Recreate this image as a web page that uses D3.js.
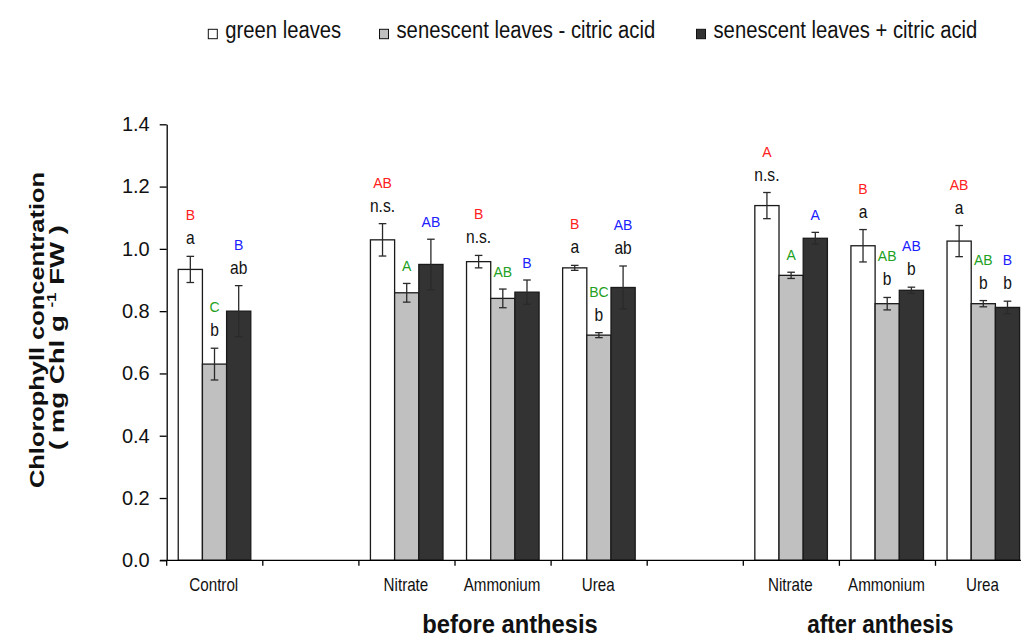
<!DOCTYPE html>
<html lang="en">
<head>
<meta charset="UTF-8">
<script src="https://cdnjs.cloudflare.com/ajax/libs/d3/7.8.5/d3.min.js"></script>
<title>Chlorophyll</title>
<style>
  body { margin: 0; background: #fff; }
  text { font-family: "Liberation Sans", Arial, sans-serif; }
</style>
</head>
<body>
<script>
// x slots (two empty slots separate the groups)
var slots = ["Control", "gap1", "Nitrate-b", "Ammonium-b", "Urea-b", "gap2", "Nitrate-a", "Ammonium-a", "Urea-a"];
var slotLabels = ["Control", "", "Nitrate", "Ammonium", "Urea", "", "Nitrate", "Ammonium", "Urea"];
var groups = ["Control", "Nitrate-b", "Ammonium-b", "Urea-b", "Nitrate-a", "Ammonium-a", "Urea-a"];

var series = ["green leaves", "senescent leaves - citric acid", "senescent leaves + citric acid"];

var green      = [0.934, 1.029, 0.959, 0.939, 1.139, 1.010, 1.025];
var greenErr   = [0.042, 0.052, 0.020, 0.008, 0.042, 0.052, 0.050];
var minus      = [0.630, 0.859, 0.841, 0.723, 0.915, 0.824, 0.824];
var minusErr   = [0.051, 0.030, 0.030, 0.008, 0.010, 0.020, 0.010];
var plus       = [0.800, 0.950, 0.861, 0.876, 1.034, 0.867, 0.812];
var plusErr    = [0.082, 0.081, 0.039, 0.069, 0.019, 0.010, 0.020];

// significance letters: upper (coloured) and lower (black)
var greenUp  = ["B", "AB", "B", "B", "A", "B", "AB"];
var greenLow = ["a", "n.s.", "n.s.", "a", "n.s.", "a", "a"];
var minusUp  = ["C", "A", "AB", "BC", "A", "AB", "AB"];
var minusLow = ["b", "", "", "b", "", "b", "b"];
var plusUp   = ["B", "AB", "B", "AB", "A", "AB", "B"];
var plusLow  = ["ab", "", "", "ab", "", "b", "b"];

var yTicks = [0, 0.2, 0.4, 0.6, 0.8, 1.0, 1.2, 1.4];

var fills = ["#ffffff", "#c0c0c0", "#333333"];
var letterColors = ["#ff2020", "#22a022", "#2020ff"];

var values = [green, minus, plus];
var errs = [greenErr, minusErr, plusErr];
var ups = [greenUp, minusUp, plusUp];
var lows = [greenLow, minusLow, plusLow];

var width = 1021, height = 637;

var svg = d3.select('body').append('svg')
    .attr('width', width)
    .attr('height', height);

var y = d3.scaleLinear().domain([0, 1.4]).range([560.3, 124.3]);
var x = d3.scaleBand().domain(slots).range([166.7, 166.7 + 96.1 * 9]);
var bw = x.bandwidth();
var xi = d3.scaleBand().domain(series).range([bw * 0.12, bw * 0.875]);

// squeeze or stretch text along its reading direction
function fit(sel, k) {
    sel.each(function() {
        var w = this.getComputedTextLength();
        if (w > 0) d3.select(this).attr('textLength', w * k).attr('lengthAdjust', 'spacingAndGlyphs');
    });
}

// flat records for bars
var rows = [];
groups.forEach(function(g, gi) {
    series.forEach(function(s, si) {
        rows.push({g: g, s: s, si: si, v: values[si][gi], e: errs[si][gi], up: ups[si][gi], low: lows[si][gi]});
    });
});

var plot = svg.append('g');

plot.selectAll('rect.bar')
    .data(rows)
    .enter().append('rect')
    .attr('class', 'bar')
    .attr('x', function(d) { return x(d.g) + xi(d.s); })
    .attr('width', xi.bandwidth())
    .attr('y', function(d) { return y(d.v); })
    .attr('height', function(d) { return y(0) - y(d.v); })
    .attr('fill', function(d) { return fills[d.si]; })
    .attr('stroke', '#1a1a1a')
    .attr('stroke-width', 1.3);

// error bars
var eb = plot.selectAll('g.err').data(rows).enter().append('g')
    .attr('class', 'err')
    .attr('transform', function(d) { return 'translate(' + (x(d.g) + xi(d.s) + xi.bandwidth() / 2) + ',0)'; })
    .attr('stroke', '#2a2a2a')
    .attr('stroke-width', 1.3);
eb.append('line').attr('x1', 0).attr('x2', 0)
    .attr('y1', function(d) { return y(d.v + d.e); })
    .attr('y2', function(d) { return y(d.v - d.e); });
eb.append('line').attr('x1', -3.8).attr('x2', 3.8)
    .attr('y1', function(d) { return y(d.v + d.e); })
    .attr('y2', function(d) { return y(d.v + d.e); });
eb.append('line').attr('x1', -3.8).attr('x2', 3.8)
    .attr('y1', function(d) { return y(d.v - d.e); })
    .attr('y2', function(d) { return y(d.v - d.e); });

// letters
var lowTxt = plot.selectAll('text.low').data(rows.filter(function(d) { return d.low; }))
    .enter().append('text')
    .attr('class', 'low')
    .attr('x', function(d) { return x(d.g) + xi(d.s) + xi.bandwidth() / 2; })
    .attr('y', function(d) { return y(d.v + d.e) - 12; })
    .attr('text-anchor', 'middle')
    .attr('font-size', 19)
    .attr('fill', '#111')
    .text(function(d) { return d.low; });
fit(lowTxt, 0.82);

plot.selectAll('text.up').data(rows)
    .enter().append('text')
    .attr('class', 'up')
    .attr('x', function(d) { return x(d.g) + xi(d.s) + xi.bandwidth() / 2; })
    .attr('y', function(d) { return y(d.v + d.e) - 12 - (d.low ? 24 : 0); })
    .attr('text-anchor', 'middle')
    .attr('font-size', 14)
    .attr('fill', function(d) { return letterColors[d.si]; })
    .text(function(d) { return d.up; });

// y axis
var yAxis = d3.axisLeft(y).tickValues(yTicks).tickFormat(d3.format('.1f'))
    .tickSize(7).tickSizeOuter(0).tickPadding(10);
var yg = svg.append('g').attr('transform', 'translate(166.7,0)').call(yAxis);
yg.select('.domain').attr('stroke', '#000').attr('stroke-width', 1.3);
yg.selectAll('.tick line').attr('stroke', '#000').attr('stroke-width', 1.3);
yg.selectAll('.tick text').attr('font-size', 20).attr('fill', '#111')
    .style('font-family', '"Liberation Sans", Arial, sans-serif');

// x axis
svg.append('line')
    .attr('x1', 160).attr('x2', width)
    .attr('y1', y(0)).attr('y2', y(0))
    .attr('stroke', '#000').attr('stroke-width', 1.3);
svg.selectAll('line.xtick').data(slots).enter().append('line')
    .attr('class', 'xtick')
    .attr('x1', function(d) { return x(d); }).attr('x2', function(d) { return x(d); })
    .attr('y1', y(0)).attr('y2', y(0) + 5.5)
    .attr('stroke', '#000').attr('stroke-width', 1.3);
var xl = svg.selectAll('text.xlab').data(slots).enter().append('text')
    .attr('class', 'xlab')
    .attr('x', function(d) { return x(d) + bw / 2 - 1; })
    .attr('y', 591)
    .attr('text-anchor', 'middle')
    .attr('font-size', 18.5)
    .attr('fill', '#111')
    .text(function(d, i) { return slotLabels[i]; });
fit(xl, 0.82);

// group titles
var gt = svg.selectAll('text.gtitle')
    .data([["before anthesis", "Ammonium-b", 7, 0.95], ["after anthesis", "Ammonium-a", -7, 0.9]])
    .enter().append('text')
    .attr('class', 'gtitle')
    .attr('x', function(d) { return x(d[1]) + bw / 2 + d[2]; })
    .attr('y', 633)
    .attr('text-anchor', 'middle')
    .attr('font-size', 25)
    .attr('font-weight', 'bold')
    .attr('fill', '#111')
    .text(function(d) { return d[0]; });
gt.each(function(d) { fit(d3.select(this), d[3]); });

// y title
var t1 = svg.append('text')
    .attr('transform', 'translate(44,330) rotate(-90)')
    .attr('text-anchor', 'middle')
    .attr('font-size', 21)
    .attr('font-weight', 'bold')
    .attr('fill', '#111')
    .text('Chlorophyll concentration');
t1.attr('textLength', 316).attr('lengthAdjust', 'spacingAndGlyphs');

var t2 = svg.append('text')
    .attr('transform', 'translate(63.5,337.5) rotate(-90)')
    .attr('text-anchor', 'middle')
    .attr('font-size', 21)
    .attr('font-weight', 'bold')
    .attr('fill', '#111');
t2.append('tspan').text('( mg Chl g ');
t2.append('tspan').attr('font-size', 13).attr('dy', -8).text('-1');
t2.append('tspan').attr('dy', 8).text(' FW )');
t2.attr('textLength', 225).attr('lengthAdjust', 'spacingAndGlyphs');

// legend
var legX = [208.3, 379.5, 696.5];
var leg = svg.selectAll('g.leg').data(series).enter().append('g')
    .attr('class', 'leg')
    .attr('transform', function(d, i) { return 'translate(' + legX[i] + ',0)'; });
leg.append('rect')
    .attr('x', 0).attr('y', 29.3)
    .attr('width', 9).attr('height', 9.4)
    .attr('fill', function(d, i) { return fills[i]; })
    .attr('stroke', '#111').attr('stroke-width', 1);
var lt = leg.append('text')
    .attr('x', 17).attr('y', 38.3)
    .attr('font-size', 23)
    .attr('fill', '#111')
    .text(function(d) { return d; });
fit(lt, 0.88);
</script>
</body>
</html>
